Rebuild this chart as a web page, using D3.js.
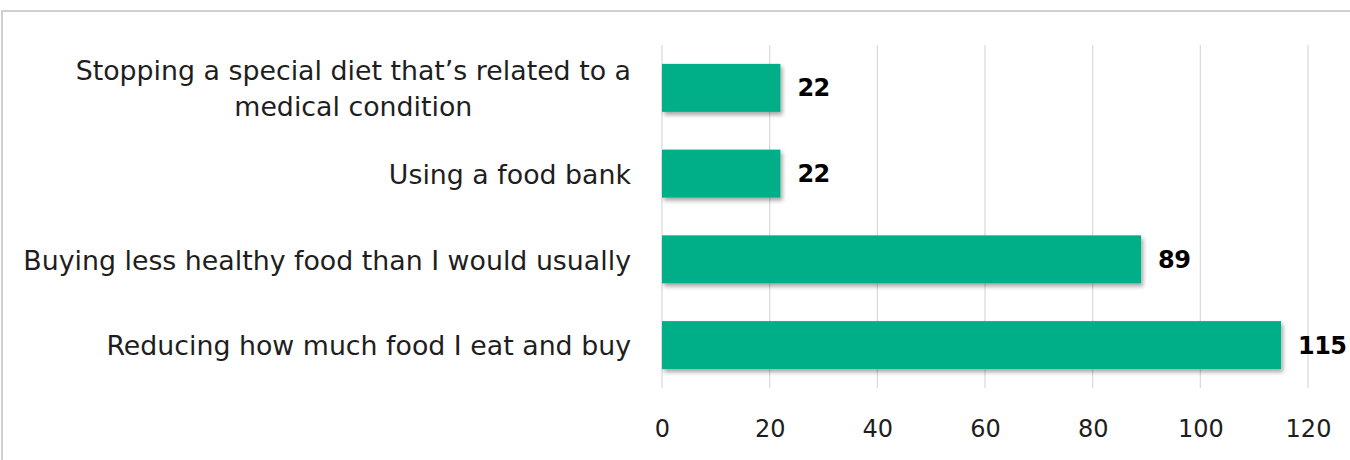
<!DOCTYPE html>
<html>
<head>
<meta charset="utf-8">
<script src="https://cdn.jsdelivr.net/npm/d3@7"></script>
<style>
  html, body { margin: 0; padding: 0; background: #ffffff; }
  svg { display: block; }
  text { font-family: "DejaVu Sans", "Noto Sans", sans-serif; }
</style>
</head>
<body>
<svg id="chart" width="1350" height="460"></svg>
<script>
// Responses: ways people have changed what they eat
const categories = [
  "Stopping a special diet that’s related to a medical condition",
  "Using a food bank",
  "Buying less healthy food than I would usually",
  "Reducing how much food I eat and buy"
];
const values = [22, 22, 89, 115];
const xTicks = [0, 20, 40, 60, 80, 100, 120];

const svg = d3.select("#chart");
const W = 1350, H = 460;
const plot = { left: 662, right: 1308, top: 45, bottom: 388 };

const barColor = "#00af87";
const textColor = "#1e1e1e";

// outer frame
svg.append("rect")
  .attr("x", 2).attr("y", 11)
  .attr("width", W + 10).attr("height", H + 10)
  .attr("fill", "#fff")
  .attr("stroke", "#cfcfcf").attr("stroke-width", 2);

// drop shadow for bars
const defs = svg.append("defs");
const f = defs.append("filter").attr("id", "barShadow")
  .attr("x", "-5%").attr("y", "-20%").attr("width", "115%").attr("height", "160%");
f.append("feDropShadow")
  .attr("dx", 2).attr("dy", 3).attr("stdDeviation", 2.2)
  .attr("flood-color", "#000").attr("flood-opacity", 0.35);

const x = d3.scaleLinear().domain([0, 120]).range([plot.left, plot.right]);
const y = d3.scaleBand().domain(categories)
  .range([plot.top, plot.bottom]).paddingInner(0.44).paddingOuter(0.22);

// vertical gridlines
svg.append("g").selectAll("line").data(xTicks).join("line")
  .attr("x1", d => x(d)).attr("x2", d => x(d))
  .attr("y1", plot.top).attr("y2", plot.bottom)
  .attr("stroke", "#d9d9d9").attr("stroke-width", 1.2);

// x axis labels
const xAxis = d3.axisBottom(x).tickValues(xTicks).tickSize(0).tickPadding(0);
const gx = svg.append("g").attr("transform", `translate(0,${plot.bottom + 40})`).call(xAxis);
gx.select(".domain").remove();
gx.selectAll("text")
  .attr("dy", "0.36em")
  .attr("font-size", 24).attr("fill", textColor)
  .style("font-family", "\"DejaVu Sans\", sans-serif");

// bars
svg.append("g").selectAll("rect").data(values).join("rect")
  .attr("x", x(0))
  .attr("y", (d, i) => y(categories[i]))
  .attr("width", d => x(d) - x(0))
  .attr("height", y.bandwidth())
  .attr("fill", barColor)
  .attr("filter", "url(#barShadow)");

// value labels
svg.append("g").selectAll("text").data(values).join("text")
  .attr("x", d => x(d) + 17)
  .attr("y", (d, i) => y(categories[i]) + y.bandwidth() / 2)
  .attr("dy", "0.35em")
  .attr("font-size", 24).attr("font-weight", 700)
  .attr("letter-spacing", -0.6)
  .attr("fill", "#000")
  .text(d => d);

// category labels, wrapped and right-aligned beside the plot
const labelRight = 631;
const labelSize = 26.8;
const lineGap = 36;
const maxLabelWidth = 615;
const gLab = svg.append("g");

function textWidth(str) {
  const p = gLab.append("text").attr("font-size", labelSize).text(str);
  const w = p.node().getComputedTextLength();
  p.remove();
  return w;
}

function wrapWords(str) {
  const lines = [];
  let cur = "";
  str.split(" ").forEach(w => {
    const test = cur ? cur + " " + w : w;
    if (cur && textWidth(test) > maxLabelWidth) { lines.push(cur); cur = w; }
    else cur = test;
  });
  if (cur) lines.push(cur);
  return lines;
}

categories.forEach(c => {
  const lines = wrapWords(c);
  const cy = y(c) + y.bandwidth() / 2;
  const blockW = d3.max(lines, textWidth);
  const cx = labelRight - blockW / 2;   // block right-aligned, lines centred in it
  const t = gLab.append("text")
    .attr("font-size", labelSize).attr("fill", textColor)
    .attr("text-anchor", "middle");
  lines.forEach((l, i) => {
    t.append("tspan")
      .attr("x", cx)
      .attr("y", cy + (i - (lines.length - 1) / 2) * lineGap + 5)
      .attr("dy", "0.2em")
      .text(l);
  });
});
</script>
</body>
</html>
